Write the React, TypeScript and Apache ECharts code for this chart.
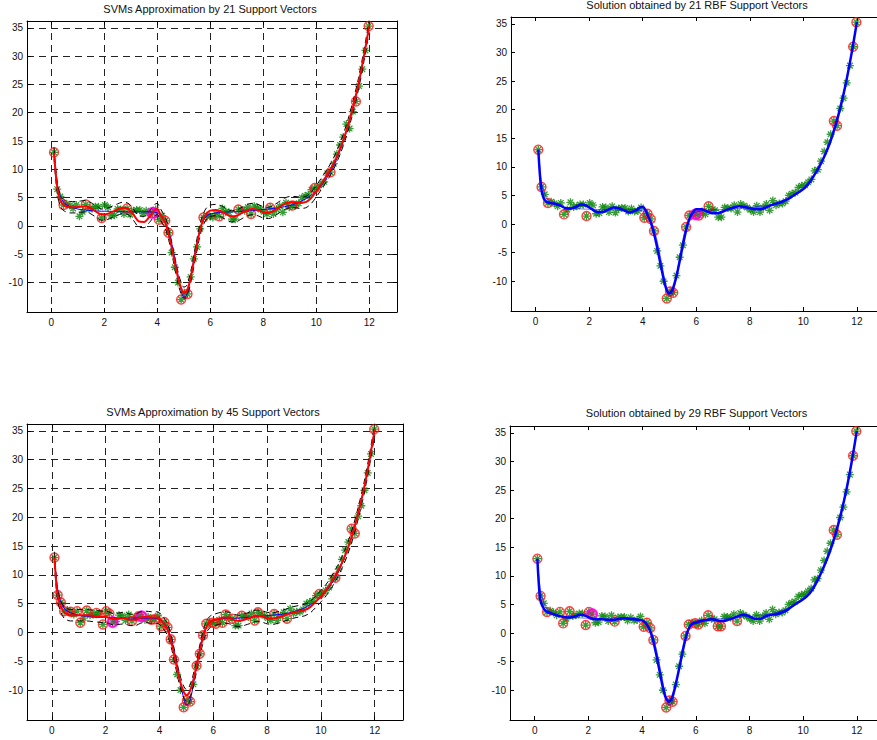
import React, { useEffect, useRef } from 'react';
import * as echarts from 'echarts';

// ---- noisy training data (green asterisks) ----
const dataX = [
  0.10, 0.22, 0.34, 0.46, 0.58, 0.70, 0.82, 0.94, 1.06, 1.18,
  1.30, 1.42, 1.54, 1.66, 1.78, 1.90, 2.02, 2.14, 2.26, 2.38,
  2.50, 2.62, 2.74, 2.86, 2.98, 3.10, 3.22, 3.34, 3.46, 3.58,
  3.70, 3.82, 3.94, 4.06, 4.18, 4.30, 4.42, 4.54, 4.66, 4.78,
  4.90, 5.02, 5.14, 5.26, 5.38, 5.50, 5.62, 5.74, 5.86, 5.98,
  6.10, 6.22, 6.34, 6.46, 6.58, 6.70, 6.82, 6.94, 7.06, 7.18,
  7.30, 7.42, 7.54, 7.66, 7.78, 7.90, 8.02, 8.14, 8.26, 8.38,
  8.50, 8.62, 8.74, 8.86, 8.98, 9.10, 9.22, 9.34, 9.46, 9.58,
  9.70, 9.82, 9.94, 10.06, 10.18, 10.30, 10.42, 10.54, 10.66, 10.78,
  10.90, 11.02, 11.14, 11.26, 11.38, 11.50, 11.62, 11.74, 11.86, 11.98,
];
const dataY = [
  13.0, 6.5, 5.2, 3.7, 3.9, 3.6, 3.1, 3.7, 1.7, 2.5,
  3.8, 3.0, 3.1, 3.4, 3.4, 1.4, 3.7, 3.3, 1.8, 1.9,
  3.0, 2.9, 2.1, 3.1, 2.0, 2.7, 2.8, 2.8, 2.2, 2.7,
  2.2, 2.3, 2.9, 1.1, 1.8, 0.9, -1.2, -4.7, -7.3, -10.0,
  -13.0, -11.8, -12.0, -9.0, -5.8, -3.7, -0.5, 1.5, 1.8, 1.7,
  1.5, 2.2, 1.7, 3.1, 2.5, 2.4, 1.2, 1.2, 2.9, 2.8,
  2.7, 3.3, 2.1, 3.5, 3.2, 2.9, 2.5, 2.1, 3.2, 2.1,
  2.9, 3.5, 2.4, 4.1, 3.3, 3.6, 3.6, 4.0, 5.0, 5.3,
  5.5, 6.4, 6.7, 6.8, 7.3, 7.8, 9.3, 9.5, 11.0, 12.7,
  14.3, 15.7, 18.0, 17.2, 20.2, 22.0, 24.7, 27.7, 31.0, 35.3,
];

// ---- curves (true function and the four approximations) ----
const curveX = [
  0.1, 0.2, 0.3, 0.4, 0.5, 0.7, 0.9, 1.1, 1.3, 1.5, 1.7, 1.9, 2.1, 2.3, 2.5, 2.7, 2.9,
  3.1, 3.3, 3.5, 3.7, 3.9, 4.0, 4.1, 4.2, 4.3, 4.4, 4.5, 4.6, 4.7, 4.8, 4.9,
  5.0, 5.1, 5.2, 5.3, 5.4, 5.5, 5.6, 5.7, 5.8, 5.9, 6.0, 6.2, 6.4, 6.6, 6.8,
  7.0, 7.2, 7.4, 7.6, 7.8, 8.0, 8.2, 8.4, 8.6, 8.8, 9.0, 9.2, 9.4, 9.6, 9.8,
  10.0, 10.2, 10.4, 10.6, 10.8, 11.0, 11.2, 11.4, 11.6, 11.8, 12.0,
];
const trueY = [
  13.0, 8.0, 5.8, 4.6, 4.0, 3.4, 3.1, 2.9, 2.8, 2.7, 2.65, 2.6, 2.6, 2.55, 2.5, 2.5, 2.5,
  2.5, 2.5, 2.5, 2.5, 2.4, 2.3, 2.0, 1.5, 0.7, -0.5, -2.2, -4.3, -6.7, -9.2, -11.4,
  -12.6, -12.3, -10.6, -8.0, -5.2, -2.7, -0.8, 0.6, 1.4, 1.9, 2.1, 2.3, 2.4, 2.45, 2.5,
  2.5, 2.6, 2.65, 2.7, 2.8, 2.9, 3.0, 3.1, 3.2, 3.4, 3.6, 3.9, 4.3, 4.8, 5.4,
  6.2, 7.2, 8.5, 10.1, 12.1, 14.6, 17.6, 21.0, 25.0, 29.8, 35.3,
];
const fitSvm21 = [
  12.9, 7.6, 5.0, 4.0, 3.6, 3.3, 3.3, 3.4, 3.5, 3.1, 2.5, 2.0, 2.1, 2.5, 2.9, 3.2, 3.0,
  2.0, 0.8, 0.7, 1.6, 2.8, 3.0, 2.2, 1.4, 0.6, -0.9, -2.9, -5.1, -7.4, -9.5, -11.0,
  -11.8, -11.6, -10.3, -8.2, -5.7, -3.2, -1.0, 0.7, 1.8, 2.4, 2.7, 2.8, 2.6, 2.1, 1.7,
  1.8, 2.3, 2.8, 3.0, 2.8, 2.4, 2.3, 2.7, 3.3, 3.9, 4.2, 4.2, 4.1, 4.2, 4.9,
  6.1, 7.5, 8.9, 10.5, 12.5, 14.9, 17.8, 21.2, 25.2, 30.0, 35.3,
];
const fitSvm45 = [
  13.0, 7.0, 5.0, 3.9, 3.3, 3.0, 3.0, 3.0, 3.0, 2.9, 2.8, 2.7, 2.6, 2.3, 2.4, 2.5, 2.2,
  2.2, 2.6, 2.7, 2.6, 2.6, 2.4, 1.9, 1.3, 0.5, -0.9, -2.8, -5.0, -7.2, -9.0, -10.3,
  -10.9, -10.5, -9.3, -7.5, -5.4, -3.2, -1.2, 0.4, 1.4, 1.9, 2.1, 2.4, 2.6, 2.5, 2.1,
  2.0, 2.3, 2.6, 2.9, 2.8, 2.5, 2.4, 2.6, 2.9, 3.2, 3.5, 3.7, 3.9, 4.4, 5.3,
  6.3, 7.4, 8.8, 10.4, 12.3, 14.6, 17.5, 21.0, 25.0, 29.8, 35.3,
];
const fitRbf21 = [
  13.0, 6.5, 4.5, 3.9, 3.7, 3.6, 3.3, 2.8, 2.7, 3.0, 3.4, 3.2, 2.6, 2.1, 2.1, 2.5, 2.9,
  2.8, 2.4, 2.0, 2.3, 2.9, 3.0, 2.5, 1.4, 0.3, -1.3, -3.2, -5.5, -7.8, -10.0, -11.6,
  -12.1, -11.6, -10.2, -8.3, -6.0, -3.7, -1.5, 0.3, 1.5, 2.2, 2.6, 2.6, 2.2, 1.9, 1.9,
  2.2, 2.6, 2.9, 3.1, 3.0, 2.8, 2.6, 2.6, 2.9, 3.3, 3.6, 3.9, 4.3, 4.9, 5.5,
  6.1, 7.1, 8.5, 10.1, 12.0, 14.3, 17.2, 20.7, 24.9, 29.8, 35.3,
];
const fitRbf29 = [
  13.0, 6.0, 4.6, 3.9, 3.6, 3.3, 3.0, 2.8, 2.7, 2.9, 3.2, 3.0, 2.6, 2.4, 2.4, 2.3, 2.3,
  2.4, 2.6, 2.5, 2.4, 2.3, 2.2, 1.9, 1.3, 0.4, -1.1, -3.1, -5.4, -7.8, -10.0, -11.5,
  -12.0, -11.5, -10.0, -8.0, -5.8, -3.5, -1.4, 0.3, 1.3, 1.7, 1.8, 2.1, 2.3, 2.4, 2.2,
  2.1, 2.3, 2.6, 3.0, 3.2, 2.9, 2.5, 2.5, 2.9, 3.2, 3.3, 3.6, 4.0, 4.7, 5.3,
  5.9, 6.7, 8.0, 9.8, 11.9, 14.3, 17.2, 20.7, 24.8, 29.7, 35.3,
];
const EPSILON = 1.0;

// ---- support vectors (indices into data) ----
const svSvm21 = [0, 3, 10, 15, 23, 31, 33, 35, 36, 40, 42, 47, 52, 58, 62, 68, 75, 82, 87, 95, 99];
const svSvm45 = [0, 1, 2, 3, 5, 7, 8, 10, 13, 15, 16, 17, 18, 24, 26, 27, 30, 31, 33, 34, 35, 36, 37,
  40, 41, 42, 44, 45, 46, 47, 49, 50, 52, 53, 55, 58, 62, 63, 68, 72, 82, 87, 92, 93, 99];
const svRbf21 = [0, 1, 3, 8, 15, 33, 34, 35, 36, 40, 41, 42, 46, 47, 49, 50, 53, 92, 93, 98, 99];
const svRbf29 = [0, 1, 3, 7, 8, 10, 15, 16, 17, 24, 33, 34, 35, 36, 40, 41, 42, 46, 47, 49, 50,
  53, 56, 57, 62, 92, 93, 98, 99];
const magSvm21 = [31];
const magSvm45 = [18, 27];
const magRbf21 = [49];
const magRbf29 = [17];

const xTicks = [0, 2, 4, 6, 8, 10, 12];
const yTicks = [-10, -5, 0, 5, 10, 15, 20, 25, 30, 35];
const titles = [
  'SVMs Approximation by 21 Support Vectors',
  'Solution obtained by 21 RBF Support Vectors',
  'SVMs Approximation by 45 Support Vectors',
  'Solution obtained by 29 RBF Support Vectors',
];

const X_MIN = -0.92;
const X_MAX = 13.05;
const Y_MIN = -15.2;
const Y_MAX = 36.2;
const FONT = '"Liberation Sans", Arial, Helvetica, sans-serif';
const STAR = 'path://M5,0L5,10M0,5L10,5M1.5,1.5L8.5,8.5M1.5,8.5L8.5,1.5';

const panels = [
  { left: 27, top: 21, width: 370, height: 291, kind: 'svm', fit: fitSvm21, sv: svSvm21, mag: magSvm21, ty: 8.5 },
  { left: 511, top: 17, width: 374, height: 294, kind: 'rbf', fit: fitRbf21, sv: svRbf21, mag: magRbf21, ty: 4.5 },
  { left: 27, top: 424, width: 376, height: 296, kind: 'svm', fit: fitSvm45, sv: svSvm45, mag: magSvm45, ty: 411.5 },
  { left: 510, top: 426, width: 375, height: 294, kind: 'rbf', fit: fitRbf29, sv: svRbf29, mag: magRbf29, ty: 413 },
];

function buildOption() {
  const grid: any[] = [];
  const xAxis: any[] = [];
  const yAxis: any[] = [];
  const series: any[] = [];
  const graphic: any[] = [];
  const pts = dataX.map((x, i) => [x, dataY[i]]);
  const truePts = curveX.map((x, i) => [x, trueY[i]]);

  panels.forEach((p, gi) => {
    const isSvm = p.kind === 'svm';
    grid.push({ left: p.left, top: p.top, width: p.width, height: p.height, containLabel: false, outerBoundsMode: 'none' });
    const lbl = (v: number) => (xTicks.indexOf(v) >= 0 ? String(v) : '');
    const lblY = (v: number) => (yTicks.indexOf(v) >= 0 ? String(v) : '');
    const gridLine = { show: isSvm, lineStyle: { type: [7, 5], color: '#222', width: 1 } };
    xAxis.push({
      type: 'value', gridIndex: gi, min: X_MIN, max: X_MAX, position: 'bottom', splitNumber: 7,
      axisLine: { show: true, onZero: false, lineStyle: { color: '#000', width: 1 } },
      axisTick: { show: true, inside: true, length: 4, customValues: xTicks, lineStyle: { color: '#000' } },
      axisLabel: { customValues: xTicks, formatter: lbl, color: '#111', fontSize: 10, fontFamily: FONT, margin: 5 },
      splitLine: gridLine,
    });
    yAxis.push({
      type: 'value', gridIndex: gi, min: Y_MIN, max: Y_MAX, position: 'left', splitNumber: 10,
      axisLine: { show: true, onZero: false, lineStyle: { color: '#000', width: 1 } },
      axisTick: { show: true, inside: true, length: 4, customValues: yTicks, lineStyle: { color: '#000' } },
      axisLabel: { customValues: yTicks, formatter: lblY, color: '#111', fontSize: 10, fontFamily: FONT, margin: 4 },
      splitLine: gridLine,
    });
    graphic.push({
      type: 'text', x: p.left + p.width / 2 - (gi % 2 === 1 ? 1 : 2), y: p.ty,
      style: { text: titles[gi], fontSize: 11, fontFamily: FONT, fill: '#111', textAlign: 'center', textVerticalAlign: 'middle' },
    });

    series.push({
      type: 'scatter', xAxisIndex: gi, yAxisIndex: gi, data: pts, symbol: STAR, symbolSize: 8, silent: true,
      itemStyle: { color: 'rgba(0,0,0,0)', borderColor: '#078507', borderWidth: 1.3 },
    });
    series.push({
      type: 'line', xAxisIndex: gi, yAxisIndex: gi, data: truePts, showSymbol: false, silent: true, smooth: 0.3,
      lineStyle: { color: '#0000ff', width: 1, opacity: isSvm ? 1 : 0.55 },
    });
    if (isSvm) {
      const upper = curveX.map((x, i) => [x, p.fit[i] + EPSILON]);
      const lower = curveX.map((x, i) => [x, p.fit[i] - EPSILON]);
      [upper, lower].forEach((d) => series.push({
        type: 'line', xAxisIndex: gi, yAxisIndex: gi, data: d, showSymbol: false, silent: true, smooth: 0.3,
        lineStyle: { color: '#000', width: 1, type: [6, 4] },
      }));
    }
    series.push({
      type: 'line', xAxisIndex: gi, yAxisIndex: gi, data: curveX.map((x, i) => [x, p.fit[i]]),
      showSymbol: false, silent: true, smooth: 0.3,
      lineStyle: { color: isSvm ? '#ff0000' : '#0000ff', width: isSvm ? 2 : 2.5 },
    });
    series.push({
      type: 'scatter', xAxisIndex: gi, yAxisIndex: gi, data: p.sv.map((i) => [dataX[i], dataY[i]]),
      symbol: 'circle', symbolSize: 9, silent: true,
      itemStyle: { color: 'rgba(0,0,0,0)', borderColor: '#ff1010', borderWidth: 1.4 },
    });
    series.push({
      type: 'scatter', xAxisIndex: gi, yAxisIndex: gi, data: p.mag.map((i) => [dataX[i], dataY[i]]),
      symbol: 'circle', symbolSize: 10, silent: true,
      itemStyle: { color: 'rgba(255,0,255,0.35)', borderColor: '#ff00ff', borderWidth: 2 },
    });
  });

  // box: top and right axes with inward ticks
  panels.forEach((p, gi) => {
    xAxis.push({
      type: 'value', gridIndex: gi, min: X_MIN, max: X_MAX, position: 'top', splitNumber: 7,
      axisLine: { show: true, onZero: false, lineStyle: { color: '#000', width: 1 } },
      axisTick: { show: true, inside: true, length: 4, customValues: xTicks, lineStyle: { color: '#000' } },
      axisLabel: { show: false }, splitLine: { show: false },
    });
    yAxis.push({
      type: 'value', gridIndex: gi, min: Y_MIN, max: Y_MAX, position: 'right', splitNumber: 10,
      axisLine: { show: true, onZero: false, lineStyle: { color: '#000', width: 1 } },
      axisTick: { show: true, inside: true, length: 4, customValues: yTicks, lineStyle: { color: '#000' } },
      axisLabel: { show: false }, splitLine: { show: false },
    });
  });

  return { animation: false, backgroundColor: '#fff', grid, xAxis, yAxis, series, graphic };
}

export default function App() {
  const ref = useRef<HTMLDivElement>(null);
  useEffect(() => {
    if (!ref.current) return;
    const chart = echarts.init(ref.current, undefined, { renderer: 'svg' });
    chart.setOption(buildOption() as any);
    return () => chart.dispose();
  }, []);
  return (
    <div
      ref={ref}
      style={{ position: 'fixed', left: 0, top: 0, width: 877, height: 740, background: '#fff' }}
    />
  );
}
